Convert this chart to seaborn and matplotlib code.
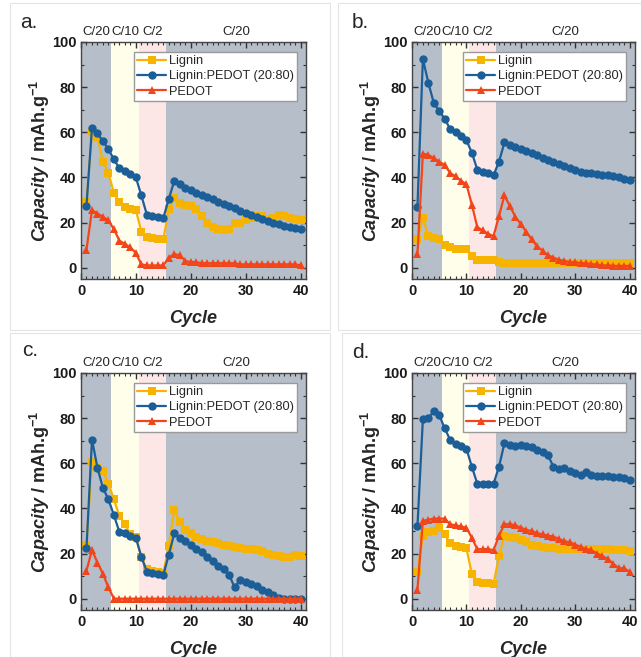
import numpy as np
import pandas as pd
import matplotlib
matplotlib.use("Agg")
import matplotlib.pyplot as plt
from matplotlib.patches import Rectangle
from matplotlib.ticker import MultipleLocator
import seaborn as sns

sns.set_style("ticks")
plt.rcParams["font.family"] = ["Liberation Sans", "DejaVu Sans"]
plt.rcParams["mathtext.fontset"] = "custom"
plt.rcParams["mathtext.rm"] = "Liberation Sans:bold"
plt.rcParams["mathtext.it"] = "Liberation Sans:italic:bold"
plt.rcParams["mathtext.bf"] = "Liberation Sans:bold"

# --- data ---
cycles = list(range(1, 41))
samples = ["Lignin", "Lignin:PEDOT (20:80)", "PEDOT"]
colors = ["#F6B400", "#1B5E98", "#F2461A"]
marker_shapes = ["s", "o", "^"]

rate_edges = [0, 5.5, 10.5, 15.5, 41]
rate_labels = ["C/20", "C/10", "C/2", "C/20"]
rate_colors = ["#B5BEC9", "#FFFEEA", "#FCE6E6", "#B5BEC9"]

# panel a
a_lignin = [29, 60, 58, 47, 42, 33, 29, 27, 26, 25.5, 16, 13.5, 13, 12.5, 12.5, 26, 31, 28.5, 28, 27.5,
            26, 23, 20, 18, 17, 16.5, 17, 20, 20, 21, 22, 23, 23, 21.5, 22, 23.5, 23, 22, 21.5, 21]
a_blend = [27.5, 62, 59.5, 56, 52.5, 48, 44, 42.7, 41.4, 40, 32, 23.5, 23, 22.5, 22, 30.5, 38.5, 37, 35.5, 34.3,
           33.3, 32.3, 31.3, 30.3, 29.3, 28.3, 27.3, 26.3, 25.3, 24.4, 23.5, 22.5, 21.5, 20.7, 20, 19.2, 18.5, 18, 17.5, 17]
a_pedot = [8, 25.5, 24, 22.5, 21, 17, 12, 10.5, 9, 6.5, 1.5, 1, 1, 1, 1, 4.5, 6, 5.5, 3, 2.5,
           2.5, 2, 2, 2, 2, 2, 2, 2, 1.5, 1.5, 1.5, 1.5, 1.5, 1.5, 1.5, 1.5, 1.5, 1.5, 1.5, 1]

# panel b
b_lignin = [12.5, 22, 14, 13, 12.5, 10, 9, 8.5, 8.5, 8.5, 5, 3.5, 3.5, 3.5, 3.5, 2.5, 2, 2, 2, 2,
            2, 2, 2, 2, 2, 2, 2, 2, 2, 2, 2, 2, 2, 2, 2, 2, 2, 2, 2, 2]
b_blend = [27, 92.5, 82, 73, 69.5, 66, 61.5, 60, 58.5, 56.5, 51, 43.5, 42.5, 42, 41, 47, 55.5, 54.5, 53.5, 52.8,
           51.8, 50.8, 49.8, 48.8, 47.8, 46.8, 45.8, 45, 44, 43.3, 42.5, 42, 41.8, 41.5, 41.2, 41, 40.5, 40, 39.5, 39]
b_pedot = [6, 50.5, 50, 48.5, 47, 45.5, 42, 40.5, 38.5, 37, 28, 18, 16.5, 15, 14, 23, 32, 27.3, 22.6, 19.3,
           16, 12.5, 9.5, 7.5, 5.5, 4.5, 3.5, 3, 2.5, 2.5, 2, 2, 1.5, 1.5, 1, 1, 0.8, 0.8, 0.8, 0.8]

# panel c
c_lignin = [24, 60.5, 58, 56.5, 51, 44, 36.5, 33, 28.5, 27.5, 18.5, 13, 12.5, 12, 11.5, 23.5, 39.5, 34, 30.5, 29,
            27.5, 26.5, 25.5, 25, 24.5, 24, 23.5, 23, 22.5, 22, 22, 21.5, 21, 20, 19.5, 19, 18.5, 18.5, 19.5, 19]
c_blend = [22.5, 70.5, 58, 49, 44, 37, 29.5, 29, 28, 27, 18.5, 12, 11.5, 11, 10.5, 19.5, 29, 27, 25.5, 24,
           22, 20.5, 18.5, 16.5, 14.5, 13, 10.5, 5, 8.5, 7.5, 6.5, 5.5, 4, 3, 1.5, 0.5, 0, 0, 0, 0]
c_pedot = [12.5, 21.5, 16, 11, 5] + [0] * 35

# panel d
d_lignin = [12, 28, 29.5, 30, 31.5, 28.5, 24.5, 23.5, 23, 22.5, 11, 7.5, 7, 7, 6.5, 19, 28, 27.5, 27, 26,
            25, 24, 23.5, 23, 22.5, 22.5, 22, 22, 22, 22, 22, 22, 22, 22, 22, 22, 21.5, 21.5, 21.5, 21]
d_blend = [32, 79.5, 80, 83, 81.5, 75.5, 70.5, 68.5, 67.5, 66.5, 58.5, 51, 51, 51, 51, 58.5, 69, 68, 67.5, 68,
           67.5, 67, 66, 65, 63.5, 58.5, 57.5, 58, 56.5, 55.5, 55, 56, 55, 54.5, 54.5, 54.5, 54, 54, 53.5, 52.5]
d_pedot = [4, 34.5, 35, 35.5, 35.5, 35.5, 33, 32.5, 32, 31.5, 27, 22, 22, 22, 21.5, 28, 33, 33, 32.5, 31.5,
           30.5, 30, 29, 28.5, 28, 27.5, 26.5, 25.5, 25, 24, 23, 22, 21.5, 20, 19, 17.5, 15.5, 13.5, 13.5, 12]

panels = [
    ("a.", a_lignin, a_blend, a_pedot),
    ("b.", b_lignin, b_blend, b_pedot),
    ("c.", c_lignin, c_blend, c_pedot),
    ("d.", d_lignin, d_blend, d_pedot),
]

W, H = 641, 657
fig = plt.figure(figsize=(W / 100, H / 100), dpi=100)

# axes boxes in pixels (left, top, right, bottom)
boxes = [(81, 42, 306, 279), (412, 42, 635, 279), (81, 373, 306, 610), (412, 373, 635, 610)]
letter_pos = [(20, 23), (352, 23), (22, 350), (352, 352)]
frames = [(10, 3, 330, 330), (338, 3, 641, 330), (10, 333, 330, 657), (342, 333, 641, 657)]

for (x0, y0, x1, y1) in frames:
    fig.add_artist(Rectangle((x0 / W, 1 - y1 / H), (x1 - x0) / W, (y1 - y0) / H,
                             transform=fig.transFigure, fill=False, edgecolor="#E4E4E4", lw=0.8))

for (letter, lig, blend, ped), (x0, y0, x1, y1), (lx, ly) in zip(panels, boxes, letter_pos):
    ax = fig.add_axes([x0 / W, 1 - y1 / H, (x1 - x0) / W, (y1 - y0) / H])

    # rate regions
    for lo, hi, c, lab in zip(rate_edges[:-1], rate_edges[1:], rate_colors, rate_labels):
        ax.axvspan(lo, hi, color=c, lw=0, zorder=0)
        ax.text((lo + hi) / 2, 1.015, lab, transform=ax.get_xaxis_transform(),
                ha="center", va="bottom", fontsize=9.5)

    df = pd.DataFrame({
        "Cycle": cycles * 3,
        "Capacity": lig + blend + ped,
        "Sample": [samples[0]] * 40 + [samples[1]] * 40 + [samples[2]] * 40,
    })
    sns.lineplot(data=df, x="Cycle", y="Capacity", hue="Sample", style="Sample",
                 hue_order=samples, style_order=samples,
                 palette=dict(zip(samples, colors)), markers=dict(zip(samples, marker_shapes)),
                 dashes=False, errorbar=None, ax=ax, linewidth=1.6, markersize=6,
                 markeredgewidth=0)

    handles, labels = ax.get_legend_handles_labels()
    ax.legend(handles, labels, loc="upper right", bbox_to_anchor=(0.96, 0.958), fontsize=9.2,
              frameon=True, fancybox=False, edgecolor="#9A9A9A", framealpha=1,
              borderpad=0.25, labelspacing=0.25, handlelength=2.3, handletextpad=0.2,
              borderaxespad=0)

    ax.set_xlim(0, 41)
    ax.set_ylim(-5, 100)
    ax.xaxis.set_major_locator(MultipleLocator(10))
    ax.xaxis.set_minor_locator(MultipleLocator(1))
    ax.yaxis.set_major_locator(MultipleLocator(20))
    ax.yaxis.set_minor_locator(MultipleLocator(10))
    ax.tick_params(which="both", direction="in", top=True, right=True, colors="#333333")
    ax.tick_params(which="major", length=4, width=1, labelsize=10.5, labelcolor="#1A1A1A")
    ax.tick_params(which="minor", length=2, width=0.8)
    for t in ax.get_xticklabels() + ax.get_yticklabels():
        t.set_fontweight("bold")
    for sp in ax.spines.values():
        sp.set_color("#444444")
        sp.set_linewidth(1)

    ax.set_xlabel("Cycle", fontsize=13, fontweight="bold", fontstyle="italic")
    ax.set_ylabel(r"$\mathit{Capacity}$ / mAh.g$^{-1}$", fontsize=13, fontweight="bold")
    ax.xaxis.set_label_coords(0.5, -0.13)
    ax.yaxis.set_label_coords(-0.13, 0.5)

    fig.text(lx / W, 1 - ly / H, letter, fontsize=15, ha="left", va="center")

fig.savefig("out.png", dpi=100)
